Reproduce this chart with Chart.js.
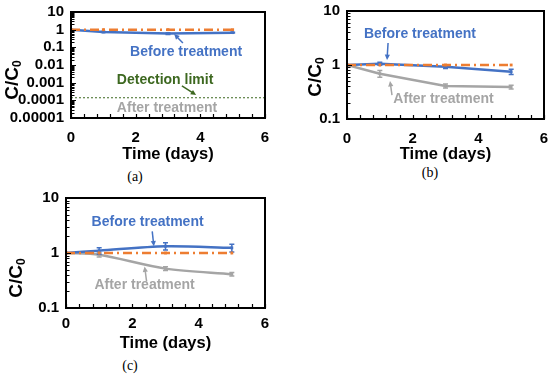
<!DOCTYPE html>
<html>
<head>
<meta charset="utf-8">
<script src="https://cdn.jsdelivr.net/npm/chart.js@4.4.1/dist/chart.umd.min.js"></script>
<style>
  body { margin: 0; background: #fff; width: 550px; height: 375px; position: relative; overflow: hidden; }
  .panel { position: absolute; }
  .cap { position: absolute; font-family: "Liberation Serif", "Times New Roman", serif; font-size: 14px; transform: translate(-50%, -50%); color: #000; }
</style>
</head>
<body>
<div class="panel" style="left:0;top:0;width:275px;height:164px"><canvas id="chartA"></canvas></div>
<div class="panel" style="left:275px;top:0;width:275px;height:164px"><canvas id="chartB"></canvas></div>
<div class="panel" style="left:0;top:185px;width:275px;height:168px"><canvas id="chartC"></canvas></div>
<div class="cap" style="left:135px;top:177px">(a)</div>
<div class="cap" style="left:430px;top:173px">(b)</div>
<div class="cap" style="left:130px;top:366px">(c)</div>
<script>
const days = [0, 1, 3, 5];

// (a)
const aControl = [1, 1, 1, 1];
const aBefore = [1, 0.74, 0.6, 0.68];
const aBeforeErr = [0, 0.04, 0.06, 0.04];
const detectionDays = [0, 6];
const detectionLimit = [0.00014, 0.00014];

// (b)
const bControl = [1, 1, 1, 1];
const bBefore = [1, 1.06, 0.93, 0.75];
const bBeforeErr = [0, 0.07, 0.07, 0.08];
const bAfter = [1, 0.69, 0.41, 0.39];
const bAfterErr = [0, 0.1, 0.035, 0.03];

// (c)
const cControl = [1, 1, 1, 1];
const cBefore = [1, 1.1, 1.33, 1.24];
const cBeforeErr = [0, 0.15, 0.2, 0.2];
const cAfter = [1, 0.93, 0.52, 0.41];
const cAfterErr = [0, 0.08, 0.04, 0.03];

const xTickLabels = ['0', '2', '4', '6'];
const yTickLabelsA = ['0.00001', '0.0001', '0.001', '0.01', '0.1', '1', '10'];
const yTickLabelsBC = ['0.1', '1', '10'];

const BLUE = '#4472C4', ORANGE = '#ED7D31', GRAY = '#A5A5A5', GREEN = '#3D6820';
const FONT = '"Liberation Sans", Arial, sans-serif';

const pts = (xs, ys) => xs.map((x, i) => ({ x: x, y: ys[i] }));

function series(values, color, extra) {
  return Object.assign({
    data: pts(days, values),
    borderColor: color,
    backgroundColor: color,
    borderWidth: 2.5,
    pointStyle: 'rect',
    pointRadius: 2,
    pointBorderWidth: 0,
    tension: 0
  }, extra || {});
}

// error bars, drawn right after their own line
const errorBars = {
  id: 'errorBars',
  afterDatasetDraw(chart, args) {
    const ds = chart.data.datasets[args.index];
    if (!ds.errors) return;
    const { ctx, scales: { x, y } } = chart;
    ctx.save();
    ctx.strokeStyle = ds.borderColor;
    ctx.lineWidth = 1.5;
    ds.data.forEach((p, i) => {
      const e = ds.errors[i];
      if (!e) return;
      const px = x.getPixelForValue(p.x);
      const top = y.getPixelForValue(p.y + e);
      const bot = y.getPixelForValue(p.y - e);
      ctx.beginPath();
      ctx.moveTo(px, top); ctx.lineTo(px, bot);
      ctx.moveTo(px - 2.5, top); ctx.lineTo(px + 2.5, top);
      ctx.moveTo(px - 2.5, bot); ctx.lineTo(px + 2.5, bot);
      ctx.stroke();
    });
    ctx.restore();
  }
};

// box round the plot, ticks pointing inward like Excel
const excelFrame = {
  id: 'excelFrame',
  afterDraw(chart) {
    const { ctx, chartArea: a, scales: { x, y } } = chart;
    ctx.save();
    ctx.strokeStyle = '#000';
    ctx.lineWidth = 1.2;
    ctx.beginPath();
    x.ticks.forEach(t => {
      const px = Math.round(x.getPixelForValue(t.value)) + 0.5;
      ctx.moveTo(px, a.bottom); ctx.lineTo(px, a.bottom - 4);
    });
    y.ticks.forEach(t => {
      const py = Math.round(y.getPixelForValue(t.value)) + 0.5;
      ctx.moveTo(a.left, py); ctx.lineTo(a.left + (t.label ? 5 : 3.5), py);
    });
    ctx.stroke();
    ctx.lineWidth = 2;
    ctx.strokeRect(a.left, a.top, a.right - a.left, a.bottom - a.top);
    ctx.restore();
  }
};

function arrow(ctx, x1, y1, x2, y2, color) {
  const ang = Math.atan2(y2 - y1, x2 - x1);
  const h = 6;
  ctx.strokeStyle = color;
  ctx.fillStyle = color;
  ctx.lineWidth = 1.5;
  ctx.beginPath();
  ctx.moveTo(x1, y1);
  ctx.lineTo(x2 - Math.cos(ang) * h * 0.8, y2 - Math.sin(ang) * h * 0.8);
  ctx.stroke();
  ctx.beginPath();
  ctx.moveTo(x2, y2);
  ctx.lineTo(x2 - h * Math.cos(ang - 0.45), y2 - h * Math.sin(ang - 0.45));
  ctx.lineTo(x2 - h * Math.cos(ang + 0.45), y2 - h * Math.sin(ang + 0.45));
  ctx.closePath();
  ctx.fill();
}

// callouts and the C/C0 axis title
const notes = {
  id: 'notes',
  afterDraw(chart, args, opts) {
    const { ctx, scales: { x, y } } = chart;
    ctx.save();
    (opts.arrows || []).forEach(a => {
      arrow(ctx, x.getPixelForValue(a.x1), y.getPixelForValue(a.y1),
        x.getPixelForValue(a.x2), y.getPixelForValue(a.y2), a.color);
    });
    ctx.font = 'bold 14px ' + FONT;
    ctx.textAlign = 'center';
    ctx.textBaseline = 'middle';
    (opts.labels || []).forEach(l => {
      ctx.fillStyle = l.color;
      ctx.fillText(l.text, x.getPixelForValue(l.x), y.getPixelForValue(l.y));
    });
    if (opts.yTitle) {
      const t = opts.yTitle;
      ctx.translate(t.cx, t.cy);
      ctx.rotate(-Math.PI / 2);
      ctx.fillStyle = '#000';
      ctx.font = 'bold 19px ' + FONT;
      const w1 = ctx.measureText('C/C').width;
      ctx.font = 'bold 12px ' + FONT;
      const w2 = ctx.measureText('0').width;
      const start = -(w1 + w2) / 2;
      ctx.textAlign = 'left';
      ctx.textBaseline = 'alphabetic';
      ctx.font = 'bold 19px ' + FONT;
      ctx.fillText('C/C', start, 7);
      ctx.font = 'bold 12px ' + FONT;
      ctx.fillText('0', start + w1, 10);
    }
    ctx.restore();
  }
};

function logTicks(labels) {
  return scale => {
    const ticks = [];
    labels.forEach((lab, i) => {
      const v = Number(lab);
      ticks.push({ value: v });
      if (i < labels.length - 1) {
        for (let k = 2; k <= 9; k++) ticks.push({ value: v * k });
      }
    });
    scale.ticks = ticks;
  };
}

function makeChart(id, cfg) {
  const tickFont = { family: FONT, size: 15, weight: 'bold' };
  return new Chart(document.getElementById(id), {
    type: 'line',
    data: { datasets: cfg.datasets },
    options: {
      responsive: true,
      maintainAspectRatio: false,
      animation: false,
      layout: { padding: { top: cfg.top, right: cfg.right, bottom: 0, left: 0 } },
      plugins: {
        legend: { display: false },
        tooltip: { enabled: false },
        notes: cfg.notes
      },
      scales: {
        x: {
          type: 'linear',
          min: 0,
          max: 6,
          grid: { display: false, drawTicks: false },
          border: { display: false },
          ticks: {
            stepSize: 0.4,
            autoSkip: false,
            maxRotation: 0,
            padding: cfg.xPad,
            color: '#000',
            font: tickFont,
            callback: v => (xTickLabels.includes(String(v)) ? String(v) : '')
          },
          title: {
            display: true,
            text: 'Time (days)',
            color: '#000',
            padding: 0,
            font: { family: FONT, size: 16.5, weight: 'bold' }
          },
          afterFit: s => {
            s.height = cfg.xHeight;
            s.paddingLeft = s.paddingRight = 0;
          }
        },
        y: {
          type: 'logarithmic',
          min: Number(cfg.yLabels[0]),
          max: Number(cfg.yLabels[cfg.yLabels.length - 1]),
          grid: { display: false, drawTicks: false },
          border: { display: false },
          afterBuildTicks: logTicks(cfg.yLabels),
          ticks: {
            autoSkip: false,
            padding: 7,
            color: '#000',
            font: tickFont,
            callback: v => {
              const lab = cfg.yLabels.find(l => Math.abs(Number(l) - v) < v * 1e-6);
              return lab === undefined ? '' : lab;
            }
          },
          afterFit: s => {
            s.width = cfg.yWidth;
            s.paddingTop = s.paddingBottom = 0;
          }
        }
      }
    },
    plugins: [errorBars, excelFrame, notes]
  });
}

makeChart('chartA', {
  top: 12, right: 10, yWidth: 71, xHeight: 46, xPad: 11,
  yLabels: yTickLabelsA,
  datasets: [
    series(aControl, ORANGE, { borderDash: [9, 4, 2, 4] }),
    series(aBefore, BLUE, { errors: aBeforeErr }),
    {
      data: pts(detectionDays, detectionLimit),
      borderColor: GREEN,
      borderWidth: 1,
      borderDash: [2, 2],
      pointRadius: 0
    }
  ],
  notes: {
    yTitle: { cx: 11, cy: 80 },
    labels: [
      { text: 'Before treatment', x: 3.56, y: 0.0545, color: BLUE },
      { text: 'Detection limit', x: 2.91, y: 0.00142, color: GREEN },
      { text: 'After treatment', x: 2.97, y: 0.000037, color: GRAY }
    ],
    arrows: [
      { x1: 3.46, y1: 0.176, x2: 3.19, y2: 0.57, color: BLUE },
      { x1: 3.43, y1: 0.00065, x2: 3.87, y2: 0.0002, color: GREEN }
    ]
  }
});

makeChart('chartB', {
  top: 11, right: 6, yWidth: 72, xHeight: 45, xPad: 11,
  yLabels: yTickLabelsBC,
  datasets: [
    series(bControl, ORANGE, { borderDash: [9, 4, 2, 4] }),
    series(bBefore, BLUE, { errors: bBeforeErr }),
    series(bAfter, GRAY, { errors: bAfterErr })
  ],
  notes: {
    yTitle: { cx: 39, cy: 77 },
    labels: [
      { text: 'Before treatment', x: 2.22, y: 3.75, color: BLUE },
      { text: 'After treatment', x: 2.94, y: 0.234, color: GRAY }
    ],
    arrows: [
      { x1: 1.25, y1: 2.55, x2: 1.22, y2: 1.24, color: BLUE },
      { x1: 1.37, y1: 0.278, x2: 1.31, y2: 0.506, color: GRAY }
    ]
  }
});

makeChart('chartC', {
  top: 13, right: 10, yWidth: 66, xHeight: 45, xPad: 7,
  yLabels: yTickLabelsBC,
  datasets: [
    series(cControl, ORANGE, { borderDash: [9, 4, 2, 4] }),
    series(cBefore, BLUE, { errors: cBeforeErr, tension: 0.3 }),
    series(cAfter, GRAY, { errors: cAfterErr, tension: 0.3 })
  ],
  notes: {
    yTitle: { cx: 15, cy: 93 },
    labels: [
      { text: 'Before treatment', x: 2.46, y: 3.6, color: BLUE },
      { text: 'After treatment', x: 2.37, y: 0.258, color: GRAY }
    ],
    arrows: [
      { x1: 2.6, y1: 2.47, x2: 2.65, y2: 1.32, color: BLUE },
      { x1: 2.43, y1: 0.305, x2: 2.37, y2: 0.57, color: GRAY }
    ]
  }
});
</script>
</body>
</html>
